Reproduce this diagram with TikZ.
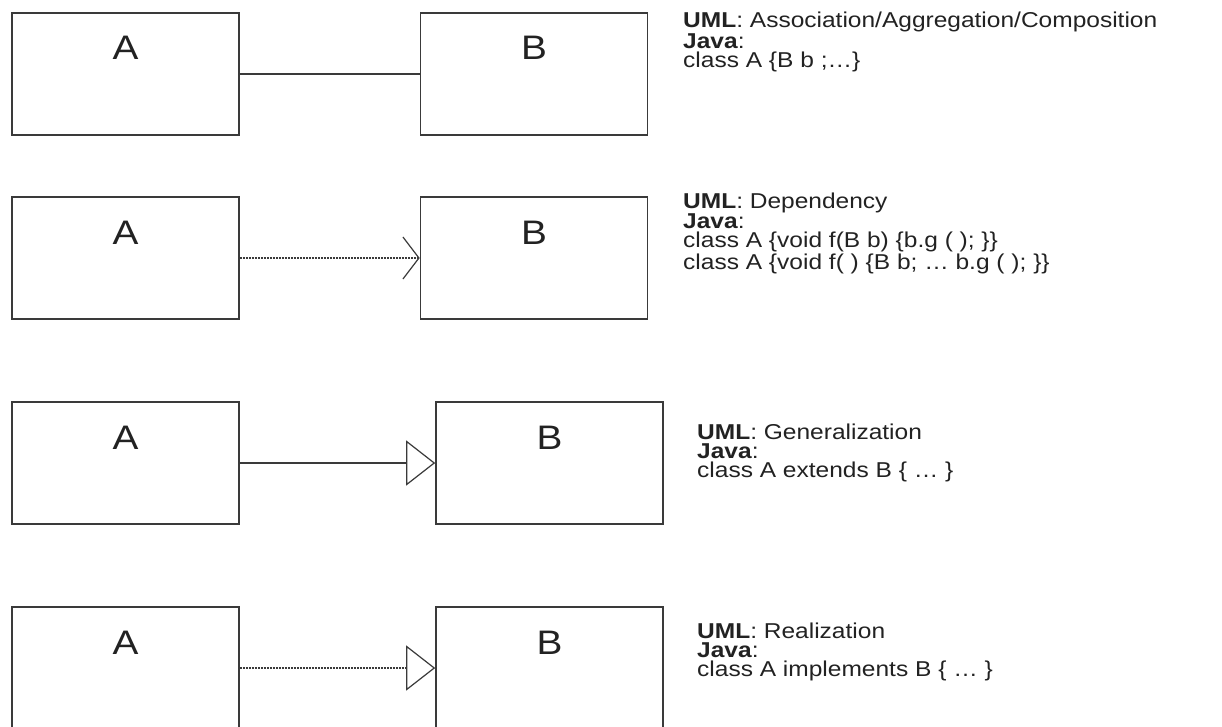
\documentclass[tikz,border=0pt]{standalone}
\usepackage{fontspec}
\setmainfont[FakeStretch=1.14]{Liberation Sans}
\usetikzlibrary{arrows.meta,calc}
\definecolor{ink}{HTML}{222222}
\definecolor{edge}{HTML}{3A3A3A}
\begin{document}
\begin{tikzpicture}[x=1pt,y=-1pt,
  cls/.style={draw=edge,line width=1.6pt,minimum width=227pt,minimum height=122pt,inner sep=0pt,fill=white},
  lbl/.style={text=ink,font=\fontsize{34}{34}\selectfont,inner sep=0pt,anchor=center},
  info/.style={text=ink,font=\fontsize{21.5}{19}\selectfont,align=left,anchor=base west,inner sep=0pt},
  conn/.style={draw=edge,line width=1.3pt},
  dep/.style={conn,dash pattern=on 2pt off 1pt},
  vhead/.style={-{Straight Barb[length=16pt,width=42pt,line width=1.2pt,line cap=butt]}},
  thead/.style={-{Triangle[open,length=29pt,width=45pt,line width=1.2pt,fill=white]}}]
\useasboundingbox (0,0) rectangle (1222,726);
\clip (0,0) rectangle (1222,726);
\fill[white] (0,0) rectangle (1222,726);
% row 1
\node[cls] (a1) at (125.5,74) {};
\node[cls] (b1) at (534,74) {};
\node[lbl] (a1t) at ($(a1.north)+(0,36)$) {A};
\node[lbl] (b1t) at ($(b1.north)+(0,36)$) {B};
\draw[conn] (a1.east) -- (b1.west);
\node[info] (t1) at (683,67) {\textbf{UML}: Association/Aggregation/Composition\\\textbf{Java}:\\class A \{B b ;…\}};
% row 2
\node[cls] (a2) at (125.5,258) {};
\node[cls] (b2) at (534,258) {};
\node[lbl] (a2t) at ($(a2.north)+(0,37)$) {A};
\node[lbl] (b2t) at ($(b2.north)+(0,37)$) {B};
\draw[dep,vhead] (a2.east) -- (b2.west);
\node[info] (t2) at (683,269) {\textbf{UML}: Dependency\\\textbf{Java}:\\class A \{void f(B b) \{b.g ( ); \}\}\\class A \{void f( ) \{B b; … b.g ( ); \}\}};
% row 3
\node[cls] (a3) at (125.5,463) {};
\node[cls] (b3) at (549.5,463) {};
\node[lbl] (a3t) at ($(a3.north)+(0,37)$) {A};
\node[lbl] (b3t) at ($(b3.north)+(0,37)$) {B};
\draw[conn,thead] (a3.east) -- (b3.west);
\node[info] (t3) at (697,477) {\textbf{UML}: Generalization\\\textbf{Java}:\\class A extends B \{ … \}};
% row 4
\node[cls] (a4) at (125.5,668) {};
\node[cls] (b4) at (549.5,668) {};
\node[lbl] (a4t) at ($(a4.north)+(0,37)$) {A};
\node[lbl] (b4t) at ($(b4.north)+(0,37)$) {B};
\draw[dep,thead] (a4.east) -- (b4.west);
\node[info] (t4) at (697,676) {\textbf{UML}: Realization\\\textbf{Java}:\\class A implements B \{ … \}};
\end{tikzpicture}
\end{document}
